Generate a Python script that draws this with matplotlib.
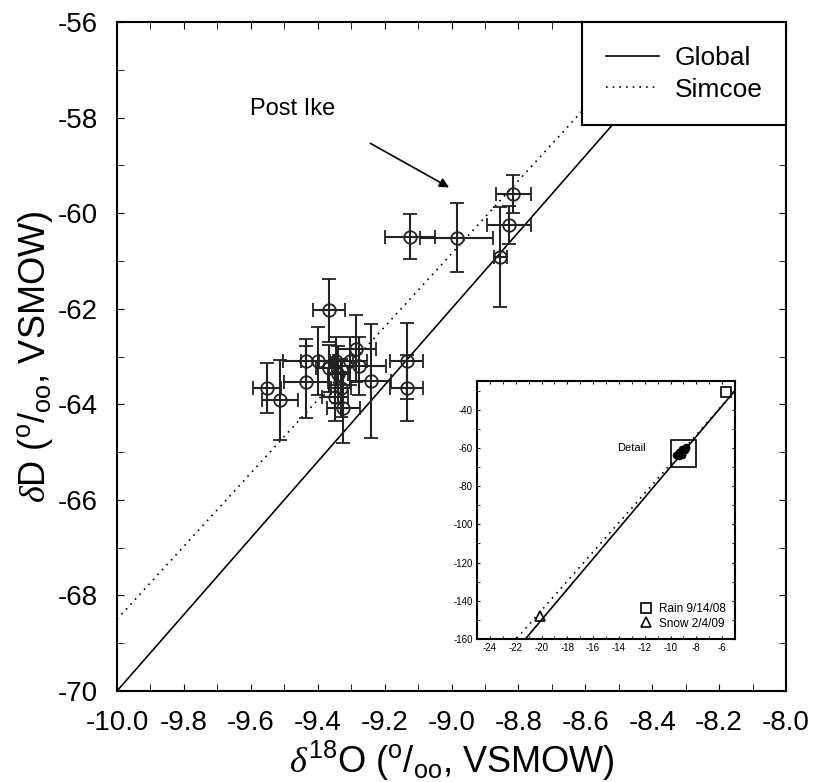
import numpy as np
import matplotlib.pyplot as plt
from matplotlib.ticker import MultipleLocator, FormatStrFormatter
from matplotlib.patches import Rectangle

plt.rcParams['font.family'] = ['Liberation Sans', 'DejaVu Sans']
plt.rcParams['mathtext.fontset'] = 'custom'
plt.rcParams['mathtext.rm'] = 'Liberation Sans'
plt.rcParams['mathtext.it'] = 'Liberation Serif:italic'
plt.rcParams['mathtext.default'] = 'regular'
plt.rcParams['axes.unicode_minus'] = False

# lake samples: d18O, dD and their errors
d18o = [-8.815, -8.828, -8.854, -8.984, -9.124,
        -9.366, -9.551, -9.513, -9.434, -9.434, -9.400, -9.366, -9.345,
        -9.338, -9.330, -9.348, -9.323, -9.303, -9.286, -9.277, -9.242,
        -9.134, -9.134]
dD = [-59.60, -60.25, -60.92, -60.51, -60.49,
      -62.03, -63.66, -63.91, -63.09, -63.54, -63.09, -63.25, -63.09,
      -63.37, -63.66, -63.85, -64.07, -63.09, -62.84, -63.20, -63.52,
      -63.09, -63.66]
d18o_err = [0.052, 0.065, 0.020, 0.109, 0.075,
            0.049, 0.042, 0.055, 0.070, 0.066, 0.050, 0.040, 0.050,
            0.030, 0.030, 0.040, 0.050, 0.050, 0.060, 0.080, 0.060,
            0.050, 0.050]
dD_err = [0.40, 0.40, 1.05, 0.73, 0.48,
          0.66, 0.52, 0.84, 0.45, 0.75, 0.71, 0.50, 0.50,
          0.60, 0.60, 0.50, 0.75, 0.50, 0.70, 0.60, 1.19,
          0.80, 0.70]

# meteoric water lines (slope, intercept)
gmwl = (8.0, 10.0)
simcoe = (7.65, 8.0)

# precipitation events
rain = (-5.7, -31.0)
snow = (-20.1, -148.0)

fig = plt.figure(figsize=(8.14, 7.82), dpi=100)
ax = fig.add_axes([117/814, 91/782, 669/814, 669/782])

xs = np.array([-10.0, -8.0])
ax.plot(xs, gmwl[0]*xs + gmwl[1], color='black', lw=1.2, label='Global')
ax.plot(xs, simcoe[0]*xs + simcoe[1], color='black', lw=1.2, ls=(0, (1, 3)), label='Simcoe')
ax.errorbar(d18o, dD, xerr=d18o_err, yerr=dD_err, fmt='o', mfc='none', mec='#222222',
            ms=9, mew=1.3, ecolor='#222222', elinewidth=1.5, capsize=5, capthick=1.5)

ax.set_xlim(-10, -8)
ax.set_ylim(-70, -56)
ax.xaxis.set_major_locator(MultipleLocator(0.2))
ax.xaxis.set_minor_locator(MultipleLocator(0.1))
ax.xaxis.set_major_formatter(FormatStrFormatter('%.1f'))
ax.yaxis.set_major_locator(MultipleLocator(2))
ax.yaxis.set_minor_locator(MultipleLocator(1))
ax.tick_params(which='both', direction='in', top=True, right=True, labelsize=20, pad=14)
ax.tick_params(which='major', length=5)
ax.tick_params(which='minor', length=5)
for s in ax.spines.values():
    s.set_linewidth(1.5)

ax.set_xlabel(r'$\mathit{\delta}^{18}$O ($^{o}/_{oo}$, VSMOW)', fontsize=26, labelpad=2)
ax.set_ylabel(r'$\mathit{\delta}$D ($^{o}/_{oo}$, VSMOW)', fontsize=26, labelpad=2)

leg = ax.legend(loc='upper right', borderaxespad=0, fancybox=False, edgecolor='black',
                framealpha=1, fontsize=19, handlelength=2.0, handletextpad=0.6,
                labelspacing=0.3, borderpad=0.9)
leg.get_frame().set_linewidth(1.5)

ax.annotate('', xy=(-9.0, -59.49), xytext=(-9.25, -58.51),
            arrowprops=dict(arrowstyle='-|>', color='black', lw=1.2, mutation_scale=14))
ax.text(-9.602, -57.82, 'Post Ike', fontsize=17, va='center', ha='left')

# inset with full range
ins = fig.add_axes([477/814, 143/782, 258/814, 258/782])
xi = np.array([-25.0, -5.0])
ins.plot(xi, gmwl[0]*xi + gmwl[1], color='black', lw=1.2)
ins.plot(xi, simcoe[0]*xi + simcoe[1], color='black', lw=1.2, ls=(0, (1, 3)))
ins.plot(d18o, dD, 'o', color='black', ms=4.5)
ins.plot(*rain, 's', mfc='none', mec='black', ms=7, mew=1.2, label='Rain 9/14/08')
ins.plot(*snow, '^', mfc='none', mec='black', ms=7, mew=1.2, label='Snow 2/4/09')
ins.add_patch(Rectangle((-10, -70), 2, 14, fill=False, ec='black', lw=1.2))
ins.text(-14.1, -60, 'Detail', fontsize=8, va='center')
ins.set_xlim(-25, -5)
ins.set_ylim(-160, -25)
ins.xaxis.set_major_locator(MultipleLocator(2))
ins.xaxis.set_minor_locator(MultipleLocator(1))
ins.yaxis.set_major_locator(MultipleLocator(20))
ins.yaxis.set_minor_locator(MultipleLocator(10))
ins.tick_params(which='both', direction='in', top=True, right=True, labelsize=7, length=2.5, pad=3)
for s in ins.spines.values():
    s.set_linewidth(1.5)
ins.legend(loc='lower right', frameon=False, fontsize=8.5, handlelength=1, handletextpad=0.6,
           labelspacing=0.2, borderaxespad=0.4)

fig.savefig('out.png', dpi=100)
